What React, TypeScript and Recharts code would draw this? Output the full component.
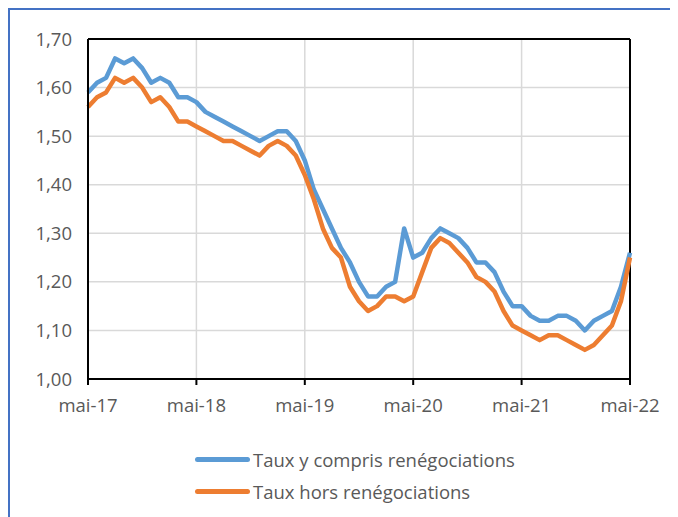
import React from "react";
import {
  LineChart,
  Line,
  XAxis,
  YAxis,
  CartesianGrid,
  ReferenceLine,
} from "recharts";

// monthly, mai-17 .. mai-22 (61 points)
const TAUX_Y_COMPRIS = [
  1.59, 1.61, 1.62, 1.66, 1.65, 1.66, 1.64, 1.61, 1.62, 1.61, 1.58, 1.58,
  1.57, 1.55, 1.54, 1.53, 1.52, 1.51, 1.5, 1.49, 1.5, 1.51, 1.51, 1.49,
  1.45, 1.39, 1.35, 1.31, 1.27, 1.24, 1.2, 1.17, 1.17, 1.19, 1.2, 1.31,
  1.25, 1.26, 1.29, 1.31, 1.3, 1.29, 1.27, 1.24, 1.24, 1.22, 1.18, 1.15,
  1.15, 1.13, 1.12, 1.12, 1.13, 1.13, 1.12, 1.1, 1.12, 1.13, 1.14, 1.19,
  1.26,
];
const TAUX_HORS = [
  1.56, 1.58, 1.59, 1.62, 1.61, 1.62, 1.6, 1.57, 1.58, 1.56, 1.53, 1.53,
  1.52, 1.51, 1.5, 1.49, 1.49, 1.48, 1.47, 1.46, 1.48, 1.49, 1.48, 1.46,
  1.42, 1.37, 1.31, 1.27, 1.25, 1.19, 1.16, 1.14, 1.15, 1.17, 1.17, 1.16,
  1.17, 1.22, 1.27, 1.29, 1.28, 1.26, 1.24, 1.21, 1.2, 1.18, 1.14, 1.11,
  1.1, 1.09, 1.08, 1.09, 1.09, 1.08, 1.07, 1.06, 1.07, 1.09, 1.11, 1.16,
  1.25,
];
const TICK_POSITIONS = [0, 12, 24, 36, 48, 60];
const TICK_LABELS = ["mai-17", "mai-18", "mai-19", "mai-20", "mai-21", "mai-22"];
const Y_TICKS = [1.0, 1.1, 1.2, 1.3, 1.4, 1.5, 1.6, 1.7];

const SERIES = [
  { key: "avec", name: "Taux y compris renégociations", color: "#5B9BD5", values: TAUX_Y_COMPRIS },
  { key: "hors", name: "Taux hors renégociations", color: "#ED7D31", values: TAUX_HORS },
];

const FONT = "'Open Sans', sans-serif";
const TEXT = "#595959";

const data = TAUX_Y_COMPRIS.map((_, i) => ({
  i,
  avec: TAUX_Y_COMPRIS[i],
  hors: TAUX_HORS[i],
}));

export default function App() {
  return (
    <div
      style={{
        position: "relative",
        width: 668,
        height: 507,
        borderTop: "2px solid #4472C4",
        borderLeft: "2px solid #4472C4",
        fontFamily: FONT,
      }}
    >
      <LineChart
        width={668}
        height={507}
        data={data}
        margin={{ top: 29, right: 48, left: 0, bottom: 98 }}
      >
        <CartesianGrid stroke="#D9D9D9" strokeWidth={1.5} />
        <XAxis
          dataKey="i"
          type="number"
          domain={[0, 60]}
          ticks={TICK_POSITIONS}
          tickFormatter={(v) => TICK_LABELS[TICK_POSITIONS.indexOf(v)] ?? ""}
          height={40}
          axisLine={{ stroke: "#000", strokeWidth: 2 }}
          tickLine={{ stroke: "#000", strokeWidth: 2 }}
          tickSize={6}
          tickMargin={14}
          tick={{ fill: TEXT, fontSize: 18.5, fontFamily: FONT }}
        />
        <YAxis
          domain={[1, 1.7]}
          ticks={Y_TICKS}
          width={78}
          axisLine={{ stroke: "#000", strokeWidth: 2 }}
          tickLine={false}
          tickSize={0}
          tickMargin={16}
          tickFormatter={(v) => v.toFixed(2).replace(".", ",")}
          tick={{ fill: TEXT, fontSize: 18.5, fontFamily: FONT }}
        />
        <ReferenceLine y={1.7} stroke="#000" strokeWidth={2} />
        <ReferenceLine x={60} stroke="#000" strokeWidth={2} />
        {SERIES.map((s) => (
          <Line
            key={s.key}
            dataKey={s.key}
            name={s.name}
            stroke={s.color}
            strokeWidth={4.5}
            strokeLinejoin="round"
            dot={false}
            activeDot={false}
            type="linear"
            isAnimationActive={false}
          />
        ))}
      </LineChart>
      <div style={{ position: "absolute", left: 185, top: 433 }}>
        {SERIES.map((s) => (
          <div
            key={s.key}
            style={{ display: "flex", alignItems: "center", height: 32 }}
          >
            <span
              style={{
                display: "inline-block",
                width: 55,
                height: 5,
                borderRadius: 3,
                background: s.color,
                marginRight: 3,
              }}
            />
            <span style={{ color: TEXT, fontSize: 18.5, whiteSpace: "nowrap" }}>
              {s.name}
            </span>
          </div>
        ))}
      </div>
    </div>
  );
}
